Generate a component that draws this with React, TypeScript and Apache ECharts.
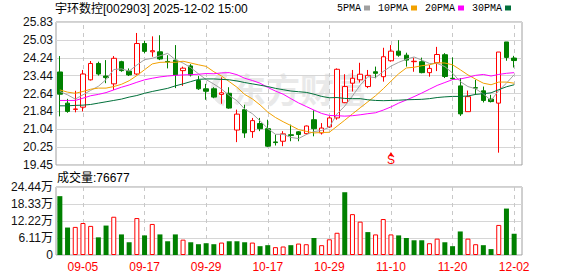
import React, { useEffect, useRef } from "react";
import * as echarts from "echarts";

const dates = [
  "09-02","09-03","09-04","09-05","09-08","09-09","09-10","09-11","09-12","09-15",
  "09-16","09-17","09-18","09-19","09-22","09-23","09-24","09-25","09-26","09-29",
  "09-30","10-09","10-10","10-13","10-14","10-15","10-16","10-17","10-20","10-21",
  "10-22","10-23","10-24","10-27","10-28","10-29","10-30","10-31","11-03","11-04",
  "11-05","11-06","11-07","11-10","11-11","11-12","11-13","11-14","11-17","11-18",
  "11-19","11-20","11-21","11-24","11-25","11-26","11-27","11-28","12-01","12-02",
];

const opens = [
  23.60,22.21,21.93,22.03,23.25,23.98,23.42,23.07,24.06,23.64,
  23.51,24.87,24.50,24.50,24.07,24.13,23.66,23.87,23.22,22.85,
  22.85,22.60,22.65,21.01,21.92,20.94,21.30,21.07,20.48,20.51,
  20.80,20.93,20.85,21.47,20.88,21.15,21.55,22.23,23.10,23.25,
  22.95,23.61,23.39,24.10,24.53,24.35,24.06,24.06,23.57,24.01,
  24.37,23.32,22.98,21.83,22.90,22.76,22.39,22.21,24.94,24.22,
];
const closes = [
  22.61,21.84,21.95,23.51,23.98,23.51,23.35,24.21,23.66,23.47,
  24.87,24.52,24.55,24.18,24.05,23.47,23.77,23.47,22.85,22.74,
  22.48,22.67,21.99,21.72,20.88,21.43,21.07,20.29,20.45,20.84,
  20.77,20.81,21.19,21.07,21.10,21.55,23.72,22.95,23.32,23.50,
  23.45,23.54,24.28,24.53,24.35,24.13,24.08,23.57,23.76,24.38,
  23.40,23.30,21.73,22.50,22.88,22.33,22.28,24.49,24.25,24.11,
];
const lows = [
  21.62,21.78,21.80,21.84,23.22,23.44,23.10,22.80,23.61,23.42,
  23.47,24.43,24.28,24.13,23.76,22.88,22.98,23.40,22.80,22.36,
  22.43,22.18,21.96,20.47,20.66,20.66,20.96,20.25,20.32,20.29,
  20.51,20.51,20.81,20.73,20.81,21.10,21.47,22.21,22.73,23.13,
  22.88,23.32,23.17,24.06,24.28,23.84,23.61,23.54,23.39,23.64,
  23.33,23.25,21.64,21.83,22.58,22.24,22.24,20.00,24.10,23.80,
];
const highs = [
  24.31,22.40,22.76,23.69,24.09,24.06,24.13,24.31,24.10,23.76,
  25.34,24.99,25.19,25.24,24.35,24.80,23.84,23.95,23.42,23.07,
  22.92,23.36,22.92,21.92,22.14,21.55,21.55,21.47,20.81,20.96,
  21.25,20.96,21.21,21.89,21.32,21.62,23.76,23.50,23.69,24.01,
  23.69,23.84,24.68,24.80,25.02,24.46,24.24,24.24,23.91,24.72,
  24.44,24.25,23.33,22.77,23.25,22.95,22.58,24.49,24.94,24.32,
];

const volumes = [
  211500,98700,101000,115000,104600,63500,105800,137500,74000,45800,
  132800,70500,111600,74000,49400,74000,55200,45800,38800,42300,
  38800,44700,49400,49400,45800,44700,31700,35300,28200,30600,
  35300,41100,38800,61100,35300,56400,79900,225600,146900,119900,
  82300,74000,129300,74000,70500,61100,52900,52900,42300,58800,
  45800,31700,84600,58800,38800,35300,21200,108100,166900,76677,
];

const ma5 = [
  22.73,22.58,22.39,22.58,22.78,22.96,23.26,23.71,23.74,23.64,
  23.91,24.15,24.21,24.32,24.43,24.15,24.00,23.79,23.52,23.26,
  23.06,22.84,22.55,22.32,21.95,21.74,21.42,21.08,20.82,20.82,
  20.68,20.63,20.81,20.94,20.99,21.14,21.73,22.08,22.53,23.01,
  23.39,23.35,23.62,23.86,24.03,24.17,24.27,24.13,23.98,23.98,
  23.84,23.55,23.17,22.95,22.85,22.62,22.33,22.77,23.10,23.48,
];
const ma10 = [
  22.80,22.70,22.65,22.73,22.83,22.88,22.88,22.95,23.05,23.21,
  23.44,23.70,23.96,24.03,24.04,24.03,24.08,24.00,23.92,23.85,
  23.61,23.42,23.17,22.92,22.60,22.40,22.13,21.81,21.57,21.38,
  21.21,21.03,20.95,20.88,20.90,20.91,21.18,21.45,21.73,22.00,
  22.27,22.54,22.85,23.19,23.52,23.78,23.81,23.88,23.92,24.01,
  24.00,23.92,23.70,23.47,23.28,23.10,23.03,23.15,23.15,23.10,
];
const ma20 = [
  22.33,22.33,22.33,22.43,22.54,22.60,22.68,22.80,22.92,23.02,
  23.14,23.25,23.32,23.38,23.42,23.45,23.47,23.48,23.50,23.53,
  23.52,23.56,23.57,23.48,23.32,23.22,23.10,22.91,22.75,22.61,
  22.41,22.22,22.06,21.90,21.75,21.66,21.65,21.63,21.65,21.69,
  21.74,21.78,21.90,22.04,22.21,22.35,22.50,22.66,22.83,23.00,
  23.13,23.26,23.29,23.36,23.45,23.49,23.42,23.49,23.54,23.57,
];
const ma30 = [
  22.09,22.09,22.11,22.12,22.15,22.21,22.27,22.33,22.39,22.48,
  22.55,22.65,22.73,22.80,22.87,22.98,23.07,23.17,23.27,23.29,
  23.29,23.27,23.25,23.20,23.13,23.07,23.01,22.95,22.87,22.81,
  22.75,22.72,22.69,22.61,22.51,22.45,22.46,22.42,22.41,22.41,
  22.36,22.33,22.32,22.33,22.34,22.36,22.37,22.38,22.41,22.46,
  22.49,22.51,22.51,22.53,22.60,22.63,22.67,22.81,22.94,23.03,
];

const priceTicks = ["19.45","20.25","21.04","21.84","22.64","23.44","24.24","25.03","25.83"];
const volumeTicks = ["0","6.11万","12.22万","18.33万","24.44万"];
const labelDates = ["09-05","09-17","09-29","10-17","10-29","11-10","11-20","12-02"];
const signalDate = "11-10";
const lastVolume = 76677;

const PRICE_MIN = 19.45;
const PRICE_MAX = 25.83;
const VOL_MAX = 244400;

const UP = "#ff0000";
const DOWN = "#008000";
const SANS = '"Liberation Sans", Arial, "Noto Sans CJK SC", sans-serif';

export default function App() {
  const ref = useRef<HTMLDivElement>(null);

  useEffect(() => {
    if (!ref.current) return;
    const chart = echarts.init(ref.current, undefined, { renderer: "svg" });

    const candleData = dates.map((_, i) => [opens[i], closes[i], lows[i], highs[i]]);
    const volData = volumes.map((v, i) => {
      const up = i === 0 ? closes[0] >= opens[0] : closes[i] >= closes[i - 1];
      return {
        value: v,
        itemStyle: up
          ? { color: "#ffffff", borderColor: UP, borderWidth: 1 }
          : { color: DOWN, borderColor: DOWN, borderWidth: 0 },
      };
    });

    const vLines = {
      silent: true,
      symbol: ["none", "none"],
      label: { show: false },
      lineStyle: { type: [4, 4], color: "#c8c8c8", width: 1 },
      data: labelDates.map((d) => ({ xAxis: d })),
      z: 1,
    };

    const maSeries = (name: string, data: number[], color: string) => ({
      name,
      type: "line",
      xAxisIndex: 1,
      yAxisIndex: 1,
      data,
      showSymbol: false,
      symbol: "none",
      z: 4,
      lineStyle: { width: 1, color },
      itemStyle: { color },
    });

    chart.setOption({
      animation: false,
      textStyle: { fontFamily: SANS },
      title: [
        {
          text: "宇环数控[002903] 2025-12-02 15:00",
          left: 55,
          top: 3,
          padding: 0,
          textStyle: { fontSize: 12, fontWeight: "normal", color: "#000", fontFamily: SANS },
        },
        {
          text: "成交量:" + lastVolume,
          left: 57,
          top: 172,
          padding: 0,
          textStyle: { fontSize: 12, fontWeight: "normal", color: "#000", fontFamily: SANS },
        },
      ],
      legend: {
        left: 337,
        top: 3,
        padding: 0,
        itemWidth: 6,
        itemHeight: 5,
        itemGap: 8,
        align: "right",
        icon: "rect",
        textStyle: { fontFamily: '"Liberation Mono", monospace', fontSize: 10, color: "#000", padding: [0, -2, 0, 0] },
        data: ["5PMA", "10PMA", "20PMA", "30PMA"],
      },
      graphic: [
        {
          type: "arc",
          silent: true,
          z: 0,
          shape: { cx: 229, cy: 89, r: 15, startAngle: Math.PI * 0.6, endAngle: Math.PI * 1.45 },
          style: { stroke: "#e9e9e9", lineWidth: 6, fill: "none" },
        },
        {
          type: "text",
          silent: true,
          z: 0,
          left: 232,
          top: 71,
          style: { text: "东方财富", font: 'bold 34px "Noto Sans CJK SC"', fill: "#e9e9e9" },
        },
      ],
      grid: [
        { left: 56, top: 22, width: 466, height: 143, show: true, borderColor: "#a0a0a0", borderWidth: 1, backgroundColor: "transparent" },
        { left: 56, top: 22, width: 462, height: 143 },
        { left: 56, top: 187, width: 466, height: 68, show: true, borderColor: "#a0a0a0", borderWidth: 1, backgroundColor: "transparent" },
        { left: 56, top: 187, width: 462, height: 68 },
      ],
      xAxis: [
        { gridIndex: 0, type: "value", min: 0, max: 1, show: false },
        { gridIndex: 1, type: "category", data: dates, boundaryGap: true, show: false },
        { gridIndex: 2, type: "value", min: 0, max: 1, show: false },
        {
          gridIndex: 3,
          type: "category",
          data: dates,
          boundaryGap: true,
          axisLine: { show: false },
          axisTick: { show: false },
          splitLine: { show: false },
          axisLabel: {
            interval: (index: number) => labelDates.includes(dates[index]),
            color: UP,
            fontSize: 12,
            margin: 6,
            fontFamily: SANS,
          },
        },
      ],
      yAxis: [
        {
          gridIndex: 0,
          type: "value",
          min: 0,
          max: priceTicks.length - 1,
          interval: 1,
          axisLine: { show: false },
          axisTick: { show: false },
          axisLabel: {
            formatter: (v: number) => priceTicks[Math.round(v)],
            color: "#111",
            fontSize: 12,
            margin: 3,
            showMinLabel: true,
            showMaxLabel: true,
            fontFamily: SANS,
          },
          splitLine: { lineStyle: { color: "#d6d6d6", width: 1 } },
        },
        { gridIndex: 1, type: "value", min: PRICE_MIN, max: PRICE_MAX, show: false, splitLine: { show: false } },
        {
          gridIndex: 2,
          type: "value",
          min: 0,
          max: volumeTicks.length - 1,
          interval: 1,
          axisLine: { show: false },
          axisTick: { show: false },
          axisLabel: {
            formatter: (v: number) => volumeTicks[Math.round(v)],
            color: "#111",
            fontSize: 12,
            margin: 3,
            showMinLabel: true,
            showMaxLabel: true,
            fontFamily: SANS,
          },
          splitLine: { lineStyle: { color: "#d6d6d6", width: 1 } },
        },
        { gridIndex: 3, type: "value", min: 0, max: VOL_MAX, show: false, splitLine: { show: false } },
      ],
      series: [
        {
          name: "K",
          type: "candlestick",
          xAxisIndex: 1,
          yAxisIndex: 1,
          data: candleData,
          barWidth: 5,
          z: 3,
          itemStyle: {
            color: "#ffffff",
            color0: DOWN,
            borderColor: UP,
            borderColor0: DOWN,
            borderWidth: 1,
          },
          markLine: vLines,
          markPoint: {
            silent: true,
            data: [
              {
                coord: [signalDate, PRICE_MIN + 0.49],
                symbol: "triangle",
                symbolSize: [5, 4],
                itemStyle: { color: UP },
                label: { show: false },
              },
              {
                coord: [signalDate, PRICE_MIN + 0.21],
                symbol: "rect",
                symbolSize: 1,
                itemStyle: { color: "rgba(0,0,0,0)" },
                label: { show: true, position: "inside", formatter: "S", color: UP, fontSize: 12, fontFamily: SANS },
              },
            ],
          },
        },
        maSeries("5PMA", ma5, "#a0a0a0"),
        maSeries("10PMA", ma10, "#f2a100"),
        maSeries("20PMA", ma20, "#ff00ff"),
        maSeries("30PMA", ma30, "#00703a"),
        {
          name: "VOL",
          type: "bar",
          xAxisIndex: 3,
          yAxisIndex: 3,
          data: volData,
          barWidth: 5,
          z: 3,
          markLine: vLines,
        },
      ],
    });

    return () => chart.dispose();
  }, []);

  return (
    <div
      ref={ref}
      style={{ position: "fixed", left: 0, top: 0, width: 578, height: 276, background: "#fff" }}
    />
  );
}
